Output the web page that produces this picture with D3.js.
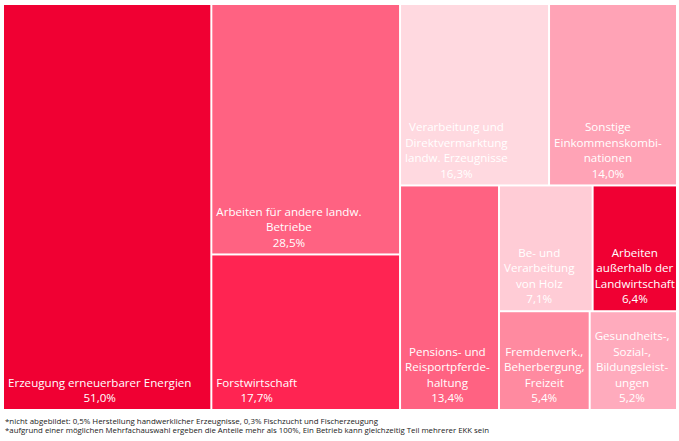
<!DOCTYPE html>
<html>
<head>
<meta charset="utf-8">
<script src="https://cdn.jsdelivr.net/npm/d3@7"></script>
<style>
  html, body { margin: 0; padding: 0; background: #fff; }
  svg { display: block; }
</style>
</head>
<body>
<svg id="chart" width="679" height="441"></svg>
<script>
// ---- data ----
const categories = [
  "Erzeugung erneuerbarer Energien",
  "Arbeiten für andere landw. Betriebe",
  "Forstwirtschaft",
  "Verarbeitung und Direktvermarktung landw. Erzeugnisse",
  "Sonstige Einkommenskombinationen",
  "Pensions- und Reisportpferdehaltung",
  "Be- und Verarbeitung von Holz",
  "Arbeiten außerhalb der Landwirtschaft",
  "Fremdenverk., Beherbergung, Freizeit",
  "Gesundheits-, Sozial-, Bildungsleistungen"
];
const values = [51.0, 28.5, 17.7, 16.3, 14.0, 13.4, 7.1, 6.4, 5.4, 5.2];
const labelLines = [
  ["Erzeugung erneuerbarer Energien"],
  ["Arbeiten für andere landw.", "Betriebe"],
  ["Forstwirtschaft"],
  ["Verarbeitung und", "Direktvermarktung", "landw. Erzeugnisse"],
  ["Sonstige", "Einkommenskombi-", "nationen"],
  ["Pensions- und", "Reisportpferde-", "haltung"],
  ["Be- und", "Verarbeitung", "von Holz"],
  ["Arbeiten", "außerhalb der", "Landwirtschaft"],
  ["Fremdenverk.,", "Beherbergung,", "Freizeit"],
  ["Gesundheits-,", "Sozial-,", "Bildungsleist-", "ungen"]
];
const colors = ["#f00033", "#ff6282", "#ff2452", "#ffd9e0", "#ffa3b6",
                "#ff6282", "#ffccd6", "#f00033", "#ff8aa0", "#ffabbd"];
// number of cells in each successive strip of the reference layout
const stripSizes = [1, 2, 2, 1, 2, 1, 1];
const footnotes = [
  "*nicht abgebildet: 0,5% Herstellung handwerklicher Erzeugnisse, 0,3% Fischzucht und Fischerzeugung",
  "*aufgrund einer möglichen Mehrfachauswahl ergeben die Anteile mehr als 100%, Ein Betrieb kann gleichzeitig Teil mehrerer EKK sein"
];

// ---- layout ----
const svg = d3.select("#chart");
const margin = {left: 4, top: 5};
const W = 672, H = 404;

function stripTile(parent, x0, y0, x1, y1) {
  const nodes = parent.children;
  let value = parent.value, i0 = 0;
  for (const k of stripSizes) {
    if (i0 >= nodes.length) break;
    const row = {children: nodes.slice(i0, i0 + k)};
    row.value = d3.sum(row.children, d => d.value);
    const dx = x1 - x0, dy = y1 - y0;
    if (dx < dy) {
      const yy = value ? y0 + dy * row.value / value : y1;
      d3.treemapDice(row, x0, y0, x1, yy);
      y0 = yy;
    } else {
      const xx = value ? x0 + dx * row.value / value : x1;
      d3.treemapSlice(row, x0, y0, xx, y1);
      x0 = xx;
    }
    value -= row.value;
    i0 += k;
  }
}

const data = categories.map((c, i) => ({name: c, value: values[i], lines: labelLines[i], color: colors[i]}));
const root = d3.hierarchy({children: data}).sum(d => d.value || 0);
d3.treemap().tile(stripTile).size([W, H]).paddingInner(2).round(false)(root);

const g = svg.append("g").attr("transform", `translate(${margin.left},${margin.top})`);
const fmt = v => d3.format(".1f")(v).replace(".", ",") + "%";

const cell = g.selectAll("g.cell").data(root.leaves()).join("g").attr("class", "cell");
cell.append("rect")
  .attr("x", d => d.x0).attr("y", d => d.y0)
  .attr("width", d => d.x1 - d.x0).attr("height", d => d.y1 - d.y0)
  .attr("fill", d => d.data.color);

const lineH = 15.5;
cell.each(function(d) {
  const sel = d3.select(this);
  const lines = d.data.lines.concat([fmt(d.data.value)]);
  const n = lines.length;
  const t = sel.append("text")
    .attr("fill", "#fff")
    .attr("font-family", "'Open Sans', sans-serif")
    .attr("font-size", 11.6)
    .attr("text-anchor", "middle");
  const spans = lines.map((s, i) => t.append("tspan")
    .attr("y", d.y1 - 11 - (n - 1 - i) * lineH)
    .attr("dy", "0.36em")
    .text(s));
  let maxW = 0;
  spans.forEach(sp => { maxW = Math.max(maxW, sp.node().getComputedTextLength()); });
  let cx = d.x0 + 4 + maxW / 2;
  if (cx + maxW / 2 > d.x1 - 2) cx = (d.x0 + d.x1) / 2;
  spans.forEach(sp => sp.attr("x", cx));
});

// ---- footnotes ----
const fnLengths = [373, 484];
footnotes.forEach((s, i) => {
  svg.append("text")
    .attr("x", 5).attr("y", 421.7 + i * 9).attr("dy", "0.35em")
    .attr("font-family", "'Open Sans', sans-serif")
    .attr("font-size", 7.5)
    .attr("fill", "#222")
    .attr("textLength", fnLengths[i])
    .attr("lengthAdjust", "spacingAndGlyphs")
    .text(s);
});
</script>
</body>
</html>
